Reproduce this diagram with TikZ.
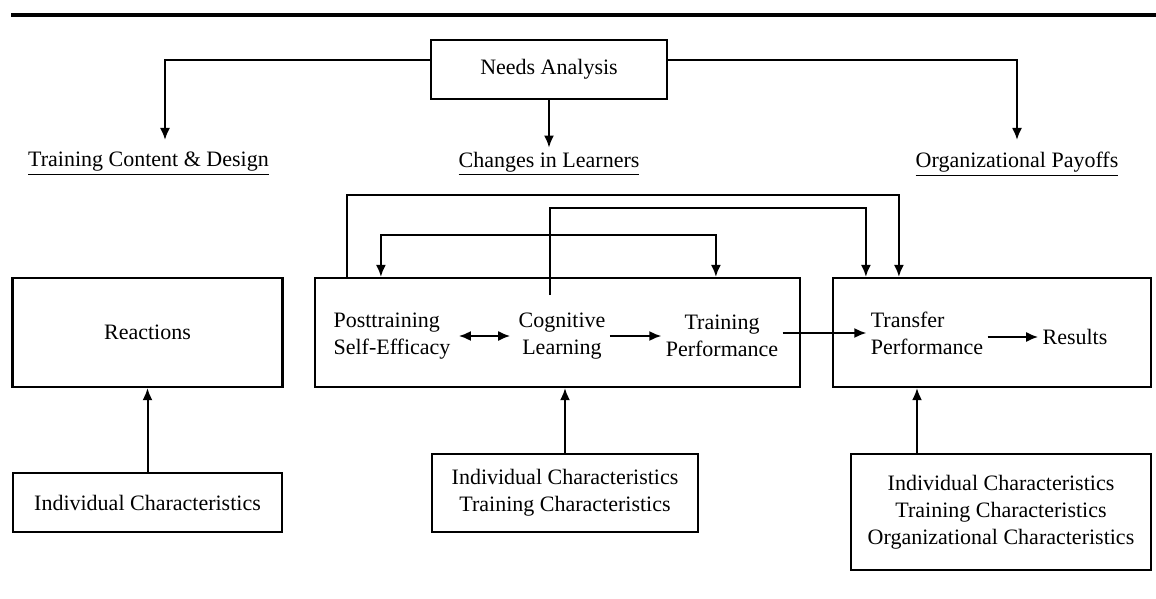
\documentclass[tikz,border=0pt]{standalone}
\usepackage{fontspec}
\setmainfont{Liberation Serif}
\usepackage{tikz}
\usetikzlibrary{arrows.meta,calc,positioning}

\begin{document}
\begin{tikzpicture}[
	x=0.5pt, y=-0.5pt,
	font=\fontsize{11pt}{13.5pt}\selectfont,
	boxnode/.style={rectangle, draw, line width=1.1pt, align=center, inner sep=0pt},
	textnode/.style={inner sep=2pt, align=center},
	arr/.style={line width=1pt, -{Latex[length=6pt,width=5pt]}},
	arrboth/.style={line width=1pt, {Latex[length=6pt,width=5pt]}-{Latex[length=6pt,width=5pt]}},
	]
	\useasboundingbox (0,0) rectangle (1156,599);
	\draw[line width=1.6pt] (11,15) -- (1156,15);

	%Nodes
	\node[boxnode, minimum width=118pt, minimum height=29.5pt] (needs) at (549,69.5) {Needs Analysis};
	\node[textnode] (tcd) at (148.5,164) {\underline{Training Content \& Design}};
	\node[textnode] (cil) at (549,164) {\underline{Changes in Learners}};
	\node[textnode] (orp) at (1017,164) {\underline{Organizational Payoffs}};

	\node[boxnode, minimum width=135pt, minimum height=54.5pt] (react) at (147.5,332.5) {Reactions};
	\node[boxnode, minimum width=242.5pt, minimum height=54.5pt] (learn) at (557.5,332.5) {};
	\node[boxnode, minimum width=159pt, minimum height=54.5pt] (transfer) at (992,332.5) {};

	\node[textnode, align=left] (pse) at (392,336) {Posttraining\\Self-Efficacy};
	\node[textnode] (cog) at (562,336) {Cognitive\\Learning};
	\node[textnode] (trp) at (722,336) {Training\\Performance};
	\node[textnode, align=left] (tp) at (927,333) {Transfer\\Performance};
	\node[textnode] (res) at (1075,337) {Results};

	\node[boxnode, minimum width=134.5pt, minimum height=29.5pt] (ic1) at (147.5,502.5) {Individual Characteristics};
	\node[boxnode, minimum width=133pt, minimum height=39pt] (ic2) at (565,493) {Individual Characteristics\\Training Characteristics};
	\node[boxnode, minimum width=150pt, minimum height=58pt] (ic3) at (1001,512) {Individual Characteristics\\Training Characteristics\\Organizational Characteristics};

	\coordinate (tcdtop) at (165,140);
	\coordinate (orptop) at (1017,140);
	\coordinate (cogtop) at (550,295);
	\coordinate (ic3top) at (917,454);

	%Lines
	\draw[arr] ([yshift=4.75pt]needs.west) -| (tcdtop);
	\draw[arr] ([yshift=4.75pt]needs.east) -| (orptop);
	\draw[arr] (needs.south) -- (cil.north);

	\draw[arrboth] ([xshift=2pt]pse.east) -- ([xshift=-2pt]cog.west);
	\draw[arr] (cog.east) -- (trp.west);
	\draw[arr] ([yshift=1.5pt]trp.east) -- ([yshift=1.5pt]trp.east -| tp.west);
	\draw[arr] (tp.east |- res.west) -- (res.west);

	\draw[arr] ($(learn.north west)+(33,0)$) -- ++(0,-82) -| ($(transfer.north west)+(67,0)$);
	\draw[arr] (cogtop) -- ++(0,-87) -| ($(transfer.north west)+(34,0)$);
	\draw[arrboth] ($(learn.north west)+(67,0)$) -- ++(0,-42) -| ($(learn.north west)+(402,0)$);

	\draw[arr] (ic1.north) -- (react.south);
	\draw[arr] (ic2.north) -- (ic2.north |- learn.south);
	\draw[arr] (ic3top) -- (ic3top |- transfer.south);
\end{tikzpicture}
\end{document}
